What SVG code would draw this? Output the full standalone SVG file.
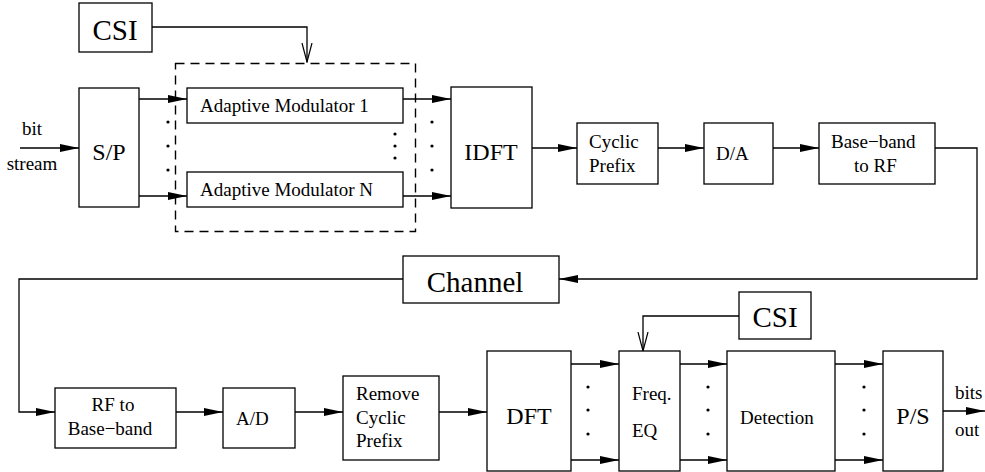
<svg xmlns="http://www.w3.org/2000/svg" width="985" height="472" viewBox="0 0 985 472">
<style>
.b{fill:#fff;stroke:#000;stroke-width:1.3}
.l{fill:none;stroke:#000;stroke-width:1.3}
.t{font-family:"Liberation Serif","Times New Roman",serif;font-size:19px;fill:#000}
.L{font-family:"Liberation Serif","Times New Roman",serif;font-size:24px;fill:#000}
.X{font-family:"Liberation Serif","Times New Roman",serif;font-size:29px;fill:#000}
.d{fill:#000}
</style>
<defs>
<marker id="a" markerUnits="userSpaceOnUse" markerWidth="20" markerHeight="10" refX="19" refY="4.5" orient="auto"><path d="M0,0.5 L19,4.5 L0,8.5 z" fill="#000"/></marker>
<marker id="v" markerUnits="userSpaceOnUse" markerWidth="20" markerHeight="12" refX="19" refY="6" orient="auto"><path d="M0,1 L19,6 L0,11" fill="none" stroke="#000" stroke-width="1.2"/></marker>
</defs>
<g id="connectors">
<path class="l" d="M152,27 H307 V62" marker-end="url(#v)"/>
<path class="l" d="M20,148 H79" marker-end="url(#a)"/>
<path class="l" d="M139,99 H187" marker-end="url(#a)"/>
<path class="l" d="M139,196 H187" marker-end="url(#a)"/>
<path class="l" d="M403,99 H451" marker-end="url(#a)"/>
<path class="l" d="M403,196 H451" marker-end="url(#a)"/>
<path class="l" d="M532,148 H577" marker-end="url(#a)"/>
<path class="l" d="M658,148 H704" marker-end="url(#a)"/>
<path class="l" d="M773,148 H819" marker-end="url(#a)"/>
<path class="l" d="M935,148 H977 V279 H559" marker-end="url(#a)"/>
<path class="l" d="M403,279 H19 V412 H55" marker-end="url(#a)"/>
<path class="l" d="M176,412 H223" marker-end="url(#a)"/>
<path class="l" d="M295,412 H343" marker-end="url(#a)"/>
<path class="l" d="M439,412 H487" marker-end="url(#a)"/>
<path class="l" d="M571,364 H619" marker-end="url(#a)"/>
<path class="l" d="M571,460 H619" marker-end="url(#a)"/>
<path class="l" d="M680,364 H727" marker-end="url(#a)"/>
<path class="l" d="M680,460 H727" marker-end="url(#a)"/>
<path class="l" d="M835,364 H883" marker-end="url(#a)"/>
<path class="l" d="M835,460 H883" marker-end="url(#a)"/>
<path class="l" d="M943,411 H985" marker-end="url(#a)"/>
<path class="l" d="M739,316 H643 V351" marker-end="url(#v)"/>
</g>
<g id="dots">
<circle class="d" cx="168" cy="122" r="1.6"/><circle class="d" cx="168" cy="146" r="1.6"/><circle class="d" cx="168" cy="170" r="1.6"/>
<circle class="d" cx="395" cy="134" r="1.6"/><circle class="d" cx="395" cy="146" r="1.6"/><circle class="d" cx="395" cy="158" r="1.6"/>
<circle class="d" cx="432" cy="122" r="1.6"/><circle class="d" cx="432" cy="146" r="1.6"/><circle class="d" cx="432" cy="170" r="1.6"/>
<circle class="d" cx="588" cy="387" r="1.6"/><circle class="d" cx="588" cy="410" r="1.6"/><circle class="d" cx="588" cy="434" r="1.6"/>
<circle class="d" cx="708" cy="387" r="1.6"/><circle class="d" cx="708" cy="410" r="1.6"/><circle class="d" cx="708" cy="434" r="1.6"/>
<circle class="d" cx="864" cy="387" r="1.6"/><circle class="d" cx="864" cy="410" r="1.6"/><circle class="d" cx="864" cy="434" r="1.6"/>
</g>
<g id="labels">
<text class="t" x="32" y="135" text-anchor="middle">bit</text>
<text class="t" x="32" y="170" text-anchor="middle">stream</text>
<text class="t" x="955" y="399">bits</text>
<text class="t" x="955" y="436">out</text>
</g>
<g id="adaptive-group"><rect x="175.5" y="63.5" width="240" height="168" fill="none" stroke="#000" stroke-width="1.4" stroke-dasharray="9,6"/></g>
<g id="csi-top"><rect class="b" x="79" y="3" width="73" height="49"/><text class="X" x="115" y="40" text-anchor="middle">CSI</text></g>
<g id="sp"><rect class="b" x="79" y="88" width="60" height="119"/><text class="L" x="109" y="160" text-anchor="middle">S/P</text></g>
<g id="mod1"><rect class="b" x="187" y="88" width="216" height="35"/><text class="t" x="200" y="112">Adaptive Modulator 1</text></g>
<g id="modN"><rect class="b" x="187" y="172" width="216" height="35"/><text class="t" x="200" y="196">Adaptive Modulator N</text></g>
<g id="idft"><rect class="b" x="451" y="87" width="81" height="121"/><text class="L" x="491" y="160" text-anchor="middle">IDFT</text></g>
<g id="cyclic"><rect class="b" x="577" y="123" width="81" height="61"/><text class="t" x="589" y="148">Cyclic</text><text class="t" x="589" y="172">Prefix</text></g>
<g id="da"><rect class="b" x="704" y="123" width="69" height="61"/><text class="t" x="716" y="160">D/A</text></g>
<g id="bb2rf"><rect class="b" x="819" y="123" width="116" height="61"/><text class="t" x="831" y="148">Base−band</text><text class="t" x="854" y="172">to RF</text></g>
<g id="channel"><rect class="b" x="403" y="256" width="156" height="47"/><text class="X" x="475" y="292" text-anchor="middle">Channel</text></g>
<g id="rf2bb"><rect class="b" x="55" y="388" width="121" height="60"/><text class="t" x="113" y="411" text-anchor="middle">RF to</text><text class="t" x="110" y="435" text-anchor="middle">Base−band</text></g>
<g id="ad"><rect class="b" x="223" y="388" width="72" height="60"/><text class="t" x="236" y="425">A/D</text></g>
<g id="remove"><rect class="b" x="343" y="376" width="96" height="84"/><text class="t" x="356" y="400">Remove</text><text class="t" x="356" y="424">Cyclic</text><text class="t" x="356" y="447">Prefix</text></g>
<g id="dft"><rect class="b" x="487" y="351" width="84" height="120"/><text class="L" x="529" y="424" text-anchor="middle">DFT</text></g>
<g id="freqeq"><rect class="b" x="619" y="351" width="61" height="120"/><text class="t" x="632" y="400">Freq.</text><text class="t" x="632" y="437">EQ</text></g>
<g id="csi-bottom"><rect class="b" x="739" y="292" width="72" height="47"/><text class="X" x="775" y="327" text-anchor="middle">CSI</text></g>
<g id="detection"><rect class="b" x="727" y="351" width="108" height="120"/><text class="t" x="740" y="424">Detection</text></g>
<g id="ps"><rect class="b" x="883" y="351" width="60" height="120"/><text class="L" x="913" y="424" text-anchor="middle">P/S</text></g>
</svg>
